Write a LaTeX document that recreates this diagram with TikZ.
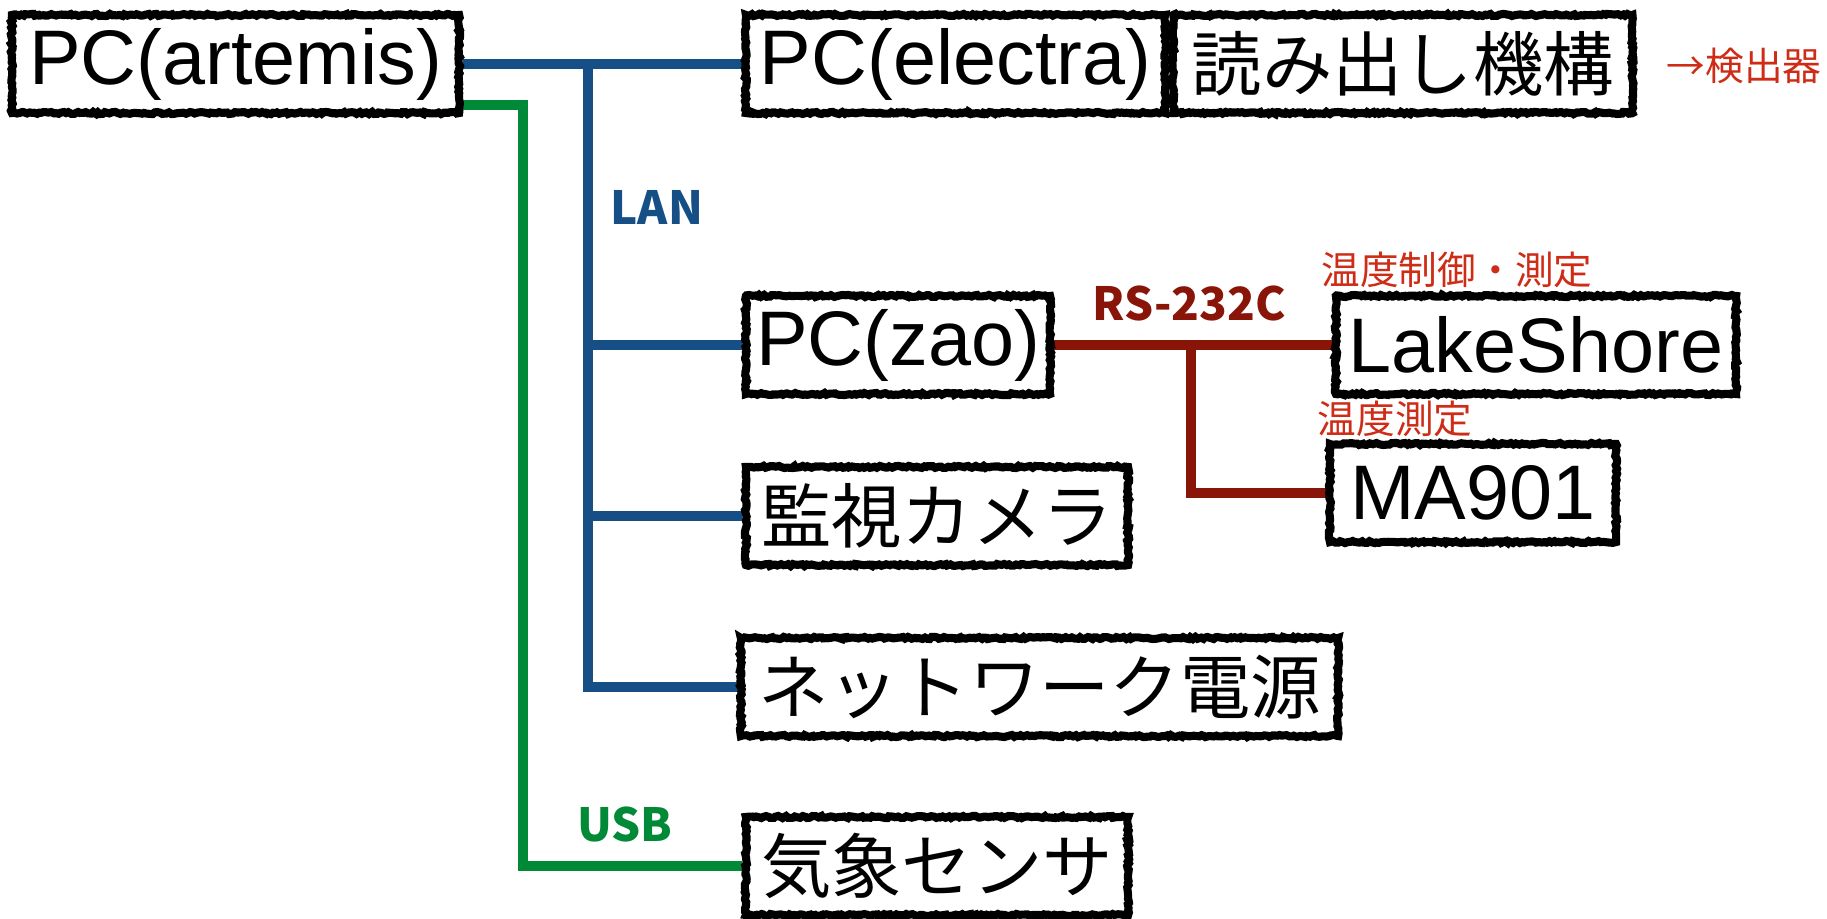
\documentclass[tikz,border=0pt]{standalone}
\usepackage{fontspec}
\setmainfont{Liberation Sans}
\newfontfamily\jpfont{Noto Sans CJK JP}
\usepackage{xcolor}
\usepackage{tikz}
\usetikzlibrary{positioning,backgrounds,decorations.pathmorphing}
\definecolor{lanblue}{RGB}{22,79,134}
\definecolor{usbgreen}{RGB}{0,137,54}
\definecolor{rsred}{RGB}{137,20,8}
\definecolor{notered}{RGB}{206,44,22}

\tikzset{
    devbox/.style={draw=black, fill=white, line width=2.3pt, inner sep=0pt,
        minimum height=0.98cm, font=\fontsize{22}{26}\selectfont,
        decorate, decoration={random steps, segment length=0.7pt, amplitude=0.3pt}},
    jpbox/.style={devbox, font=\jpfont\fontsize{20}{24}\selectfont},
    lanline/.style={draw=lanblue, line width=2.6pt},
    usbline/.style={draw=usbgreen, line width=2.6pt},
    rsline/.style={draw=rsred, line width=2.6pt},
    buslabel/.style={font=\jpfont\bfseries\fontsize{13}{15}\selectfont, inner sep=0pt},
    notelabel/.style={font=\jpfont\fontsize{11}{13}\selectfont, text=notered, inner sep=0pt}
}

\begin{document}
\pgfmathsetseed{7}
\begin{tikzpicture}[x=0.01cm, y=-0.01cm]
    \useasboundingbox (0,0) rectangle (1827,919);

    % devices
    \node[devbox, minimum width=4.47cm] (artemis) at (235.5,64) {PC(artemis)};
    \node[devbox, minimum width=4.19cm] (electra) at (955.5,64) {PC(electra)};
    \node[jpbox, minimum width=4.59cm, right=0pt of electra] (readout) {読み出し機構};
    \node[devbox, minimum width=3.04cm] (zao) at (898,345) {PC(zao)};
    \node[devbox, minimum width=4.00cm] (lake) at (1536,345) {LakeShore};
    \node[devbox, minimum width=2.86cm] (ma) at (1473,493) {MA901};
    \node[jpbox, minimum width=3.82cm] (cam) at (937,516) {監視カメラ};
    \node[jpbox, minimum width=5.97cm] (power) at (1039.5,687) {ネットワーク電源};
    \node[jpbox, minimum width=3.82cm] (wsens) at (937,866) {気象センサ};

    % bus labels and notes
    \node[buslabel, text=lanblue] (lanlbl) at (657,207) {LAN};
    \node[buslabel, text=usbgreen] (usblbl) at (625,824) {USB};
    \node[buslabel, text=rsred] (rslbl) at (1189,304) {RS-232C};
    \node[notelabel] (ctrlnote) at (1457,270) {温度制御・測定};
    \node[notelabel] (measnote) at (1395,419) {温度測定};
    \node[notelabel] (detnote) at (1744,66) {→検出器};

    \coordinate (lanbus) at (588,64);
    \coordinate (usbbend) at (523,105);
    \coordinate (rsbus) at (1191,345);

    \begin{scope}[on background layer]
        % LAN
        \draw[lanline] (artemis.east) -- (electra.west);
        \draw[lanline] (lanbus) |- (power.west);
        \draw[lanline] (lanbus |- zao.west) -- (zao.west);
        \draw[lanline] (lanbus |- cam.west) -- (cam.west);
        % USB
        \draw[usbline] (artemis.east |- usbbend) -- (usbbend) |- (wsens.west);
        % RS-232C
        \draw[rsline] (zao.east) -- (lake.west);
        \draw[rsline] (rsbus) |- (ma.west);
    \end{scope}
\end{tikzpicture}
\end{document}
